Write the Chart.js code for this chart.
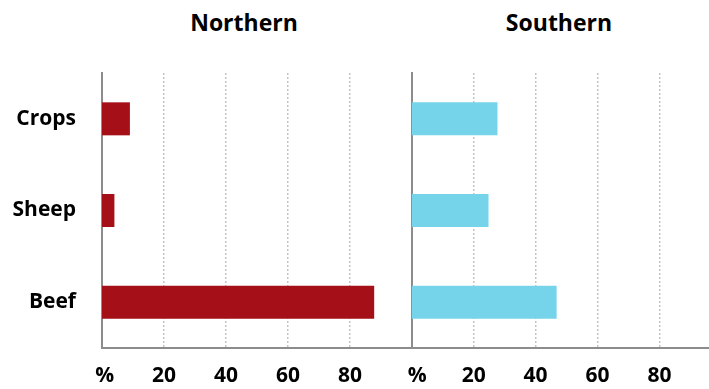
<!DOCTYPE html>
<html>
<head>
<meta charset="utf-8">
<script src="https://cdn.jsdelivr.net/npm/chart.js@4.4.1/dist/chart.umd.min.js"></script>
<style>
  html, body { margin: 0; padding: 0; background: #fff; }
  body { width: 709px; height: 389px; position: relative; overflow: hidden; font-family: "Open Sans", "Noto Sans", sans-serif; }
  canvas { position: absolute; top: 0; }
  .title { position: absolute; top: 6px; font-weight: 700; font-size: 23px; color: #000; transform: translateX(-50%); white-space: nowrap; }
</style>
</head>
<body>
<div class="title" style="left:244px">Northern</div>
<div class="title" style="left:559px">Southern</div>
<canvas id="north" width="412" height="389" style="left:0"></canvas>
<canvas id="south" width="329" height="389" style="left:380px"></canvas>
<script>
// Farm categories and the share (%) of each in the two regions
const categories = ['Crops', 'Sheep', 'Beef'];
const northernValues = [9.0, 4.0, 87.8];
const southernValues = [27.7, 24.8, 46.8];
const tickStep = 20;
const lastLabelledTick = 80;

const AXIS_COLOR = '#8c8c8c';
const GRID_COLOR = '#c4c4c4';
const FONT = { family: '"Open Sans", "Noto Sans", sans-serif', size: 21, weight: '700' };

function panelConfig(values, color, opts) {
  return {
    type: 'bar',
    data: {
      labels: categories,
      datasets: [{
        data: values,
        backgroundColor: color,
        borderWidth: 0,
        categoryPercentage: 1,
        barPercentage: 0.36
      }]
    },
    options: {
      indexAxis: 'y',
      responsive: false,
      animation: false,
      events: [],
      layout: { padding: { top: 73, right: 0, left: 0, bottom: 0 } },
      plugins: { legend: { display: false }, title: { display: false }, tooltip: { enabled: false } },
      scales: {
        x: {
          type: 'linear',
          min: 0,
          max: opts.max,
          afterBuildTicks: axis => { axis.ticks = axis.ticks.filter(t => t.value % tickStep === 0 && t.value <= lastLabelledTick); },
          afterFit: axis => { axis.height = 41; },
          ticks: {
            stepSize: tickStep,
            color: '#000',
            font: FONT,
            padding: 15,
            maxRotation: 0,
            autoSkip: false,
            callback: v => (v === 0 ? opts.zeroLabel : String(v))
          },
          grid: {
            drawTicks: false,
            lineWidth: ctx => (ctx.tick && ctx.tick.value === 0 ? 0 : 1.5),
            color: GRID_COLOR
          },
          border: { display: true, color: AXIS_COLOR, width: 2, dash: [2, 2] }
        },
        y: {
          afterFit: axis => { axis.width = opts.yWidth; },
          ticks: {
            display: opts.showLabels,
            autoSkip: false,
            color: '#000',
            font: FONT,
            padding: 26
          },
          grid: { display: false, drawTicks: false },
          border: { display: true, color: AXIS_COLOR, width: 2 }
        }
      }
    }
  };
}

new Chart(document.getElementById('north'),
  panelConfig(northernValues, '#a50f18', { max: 100, zeroLabel: ' %', yWidth: 102, showLabels: true }));
new Chart(document.getElementById('south'),
  panelConfig(southernValues, '#75d3ea', { max: 96, zeroLabel: '  %', yWidth: 31.7, showLabels: false }));
</script>
</body>
</html>
